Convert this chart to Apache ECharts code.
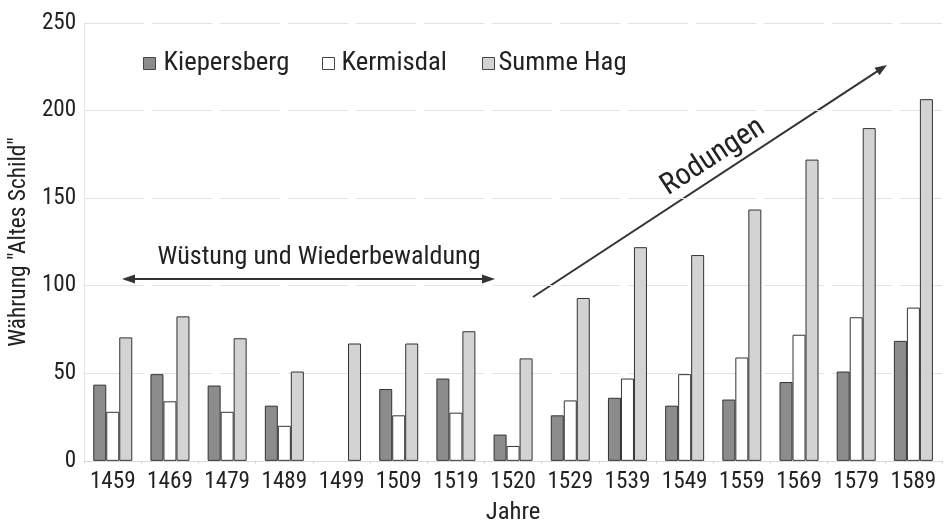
<!DOCTYPE html>
<html>
<head>
<meta charset="utf-8">
<script src="https://cdn.jsdelivr.net/npm/echarts@6/dist/echarts.min.js"></script>
<style>
  html, body { margin: 0; padding: 0; background: #fff; }
  #chart { width: 948px; height: 530px; }
</style>
</head>
<body>
<div id="chart"></div>
<script>
// Jahre (Kategorien)
const years = ['1459', '1469', '1479', '1489', '1499', '1509', '1519', '1520',
               '1529', '1539', '1549', '1559', '1569', '1579', '1589'];
// Werte in Währung "Altes Schild"
const kiepersberg = [43.5, 49.5, 43, 31.5, null, 41, 47, 15, 26, 36, 31.5, 35, 45, 51, 68.5];
const kermisdal   = [28, 34, 28, 20, null, 26, 27.5, 8.5, 34.5, 47, 49.5, 59, 72, 82, 87.5];
const summeHag    = [70.5, 82.5, 70, 51, 67, 67, 74, 58.5, 93, 122, 117.5, 143.5, 172, 190, 206.5];
// Achsenbeschriftung
const yTicks = { min: 0, max: 250, interval: 50 };

// Schmale Grotesk bevorzugen, sonst die nächstbeste schmale Schrift
const measureCtx = document.createElement('canvas').getContext('2d');
function hasFont(name) {
  measureCtx.font = '40px monospace';
  const a = measureCtx.measureText('Kiepersberg 1459 Wg').width;
  measureCtx.font = '40px "' + name + '", monospace';
  const b = measureCtx.measureText('Kiepersberg 1459 Wg').width;
  return a !== b;
}
const candidates = ['Liberation Sans Narrow', 'Arial Narrow', 'Roboto Condensed',
                    'Noto Sans Condensed', 'DejaVu Sans Condensed', 'Liberation Sans'];
const family = candidates.find(hasFont) || 'sans-serif';
const FONT = '"' + family + '", sans-serif';
// Schriftgröße so wählen, dass ein Text etwa eine gegebene Breite einnimmt
function fit(text, width) {
  measureCtx.font = '100px ' + FONT;
  return Math.round(105 * width / measureCtx.measureText(text).width * 10) / 10;
}

const tickSize   = (fit('1459', 43) + fit('250', 33)) / 2;
const legendSize = fit('Kiepersberg', 120);
const noteSize   = fit('Wüstung und Wiederbewaldung', 308);
const rodSize    = fit('Rodungen', 112);
const xNameSize  = fit('Jahre', 52);
const yNameSize  = fit('Währung "Altes Schild"', 200);

const INK = '#222';
const EDGE = '#333';

const chart = echarts.init(document.getElementById('chart'), null, { renderer: 'canvas' });

function barSeries(name, data, fill) {
  return {
    name: name,
    type: 'bar',
    data: data,
    barWidth: 13,
    barGap: '0%',
    itemStyle: { color: fill, borderColor: EDGE, borderWidth: 1 },
    emphasis: { disabled: true },
    animation: false
  };
}

function legendAt(name, left, textGap) {
  return {
    data: [name],
    left: left,
    top: 50,
    padding: 0,
    icon: 'rect',
    itemWidth: 12,
    itemHeight: 12,
    itemGap: 0,
    selectedMode: false,
    itemStyle: { borderColor: '#444', borderWidth: 1 },
    textStyle: { fontFamily: FONT, fontSize: legendSize, lineHeight: 24, color: INK,
                 padding: [0, 0, 0, textGap] }
  };
}

// Pfeilspitze als Dreieck: Spitze (tx, ty), Richtung (dx, dy)
function arrowHead(tx, ty, dx, dy, len, half) {
  const l = Math.hypot(dx, dy);
  const ux = dx / l, uy = dy / l;
  const bx = tx - ux * len, by = ty - uy * len;
  return {
    type: 'polygon',
    shape: { points: [[tx, ty], [bx - uy * half, by + ux * half], [bx + uy * half, by - ux * half]] },
    style: { fill: EDGE },
    silent: true
  };
}

const hx1 = 122, hx2 = 495, hy = 279;
const rx1 = 533, ry1 = 297, rx2 = 887, ry2 = 65;
const rAngle = Math.atan2(ry1 - ry2, rx2 - rx1);

chart.setOption({
  backgroundColor: '#fff',
  animation: false,
  grid: { left: 81, right: 6, top: 23, bottom: 63.5, containLabel: false },
  legend: [
    legendAt('Kiepersberg', 143, 3),
    legendAt('Kermisdal', 322, 2),
    legendAt('Summe Hag', 482, -1)
  ],
  xAxis: {
    type: 'category',
    data: years,
    name: 'Jahre',
    nameLocation: 'middle',
    nameGap: 51.5 - xNameSize / 2,
    nameTextStyle: { fontFamily: FONT, fontSize: xNameSize, color: INK },
    axisLine: { lineStyle: { color: '#d8d8d8', width: 1 } },
    axisTick: { show: true, length: 3, lineStyle: { color: '#d8d8d8' } },
    axisLabel: { interval: 0, fontFamily: FONT, fontSize: tickSize, color: INK,
                 margin: 21.5 - tickSize / 2 },
    splitLine: { show: false }
  },
  yAxis: {
    type: 'value',
    min: yTicks.min,
    max: yTicks.max,
    interval: yTicks.interval,
    name: 'Währung "Altes Schild"',
    nameLocation: 'middle',
    nameGap: 50,
    nameTextStyle: { fontFamily: FONT, fontSize: yNameSize, color: INK },
    axisLine: { show: true, lineStyle: { color: '#e4e4e4', width: 1 } },
    axisTick: { show: false },
    axisLabel: { fontFamily: FONT, fontSize: tickSize, color: INK, margin: 8 },
    splitLine: { lineStyle: { color: '#e2e2e2', width: 1, type: [60, 8] } }
  },
  series: [
    barSeries('Kiepersberg', kiepersberg, '#8c8c8c'),
    barSeries('Kermisdal', kermisdal, '#ffffff'),
    barSeries('Summe Hag', summeHag, '#d3d3d3')
  ],
  graphic: [
    // Wüstung und Wiederbewaldung: Doppelpfeil
    { type: 'line', shape: { x1: hx1 + 8, y1: hy, x2: hx2 - 8, y2: hy },
      style: { stroke: EDGE, lineWidth: 2 }, silent: true },
    arrowHead(hx1, hy, -1, 0, 13, 4.5),
    arrowHead(hx2, hy, 1, 0, 13, 4.5),
    { type: 'text', x: 319, y: 257,
      style: { text: 'Wüstung und Wiederbewaldung', fontFamily: FONT, fontSize: noteSize,
               fill: INK, align: 'center', verticalAlign: 'middle' }, silent: true },
    // Rodungen: ansteigender Pfeil
    { type: 'line', shape: { x1: rx1, y1: ry1, x2: rx2 - 9 * Math.cos(rAngle), y2: ry2 + 9 * Math.sin(rAngle) },
      style: { stroke: EDGE, lineWidth: 2 }, silent: true },
    arrowHead(rx2, ry2, rx2 - rx1, ry2 - ry1, 12, 4.5),
    { type: 'text', x: 713, y: 157, rotation: rAngle,
      style: { text: 'Rodungen', fontFamily: FONT, fontSize: rodSize,
               fill: INK, align: 'center', verticalAlign: 'middle' }, silent: true }
  ]
});
</script>
</body>
</html>
